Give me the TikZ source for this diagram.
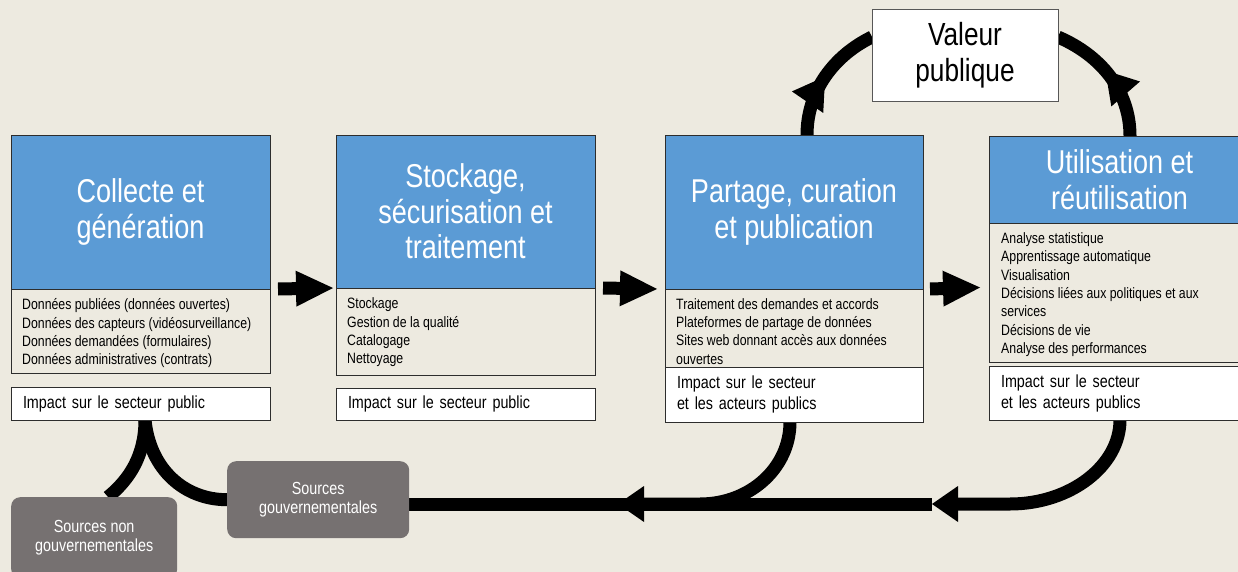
\documentclass[tikz,border=0pt]{standalone}
\usepackage{fontspec}
\setmainfont{Liberation Sans}[FakeStretch=0.82]
\usetikzlibrary{arrows.meta,decorations.markings}
\definecolor{bgc}{RGB}{237,234,224}
\definecolor{hblue}{RGB}{91,155,213}
\definecolor{sgrey}{RGB}{118,113,113}
\definecolor{edgec}{RGB}{45,45,45}
\pgfdeclarelayer{back}
\pgfdeclarelayer{lines}
\pgfsetlayers{back,lines,main}
\newcommand\impfont{\fontsize{17.5}{21}\selectfont\spaceskip=4pt plus 1pt minus 0.5pt\relax}
\tikzset{
 box/.style={draw=edgec, line width=0.9pt, anchor=north west, inner sep=0pt, outer sep=0pt},
 head/.style={box, fill=hblue, text=white, align=center, font=\fontsize{33}{35.5}\selectfont},
 body/.style={box, fill=bgc},
 impact/.style={box, fill=white, align=left, font=\impfont},
 bodytxt/.style={anchor=north west, align=left, font=\fontsize{15}{18.3}\selectfont, inner sep=0pt, execute at begin node=\strut},
 src/.style={fill=sgrey, rounded corners=9pt, anchor=north west, text=white, align=center, font=\fontsize{17.5}{19.5}\selectfont, inner sep=0pt},
 valbox/.style={box, fill=white, draw=edgec!80, align=center, font=\fontsize{32}{36}\selectfont},
 loopline/.style={line width=13pt, line cap=butt, draw=black},
 bigtip/.style={-{Triangle[length=37pt,width=36pt,line width=0pt]}},
 looptip/.style={-{Triangle[length=26pt,width=36pt,line width=0pt]}},
 midtip/.style={postaction={decorate}, decoration={markings, mark=at position #1 with {\arrow{Triangle[length=31pt,width=38pt,line width=0pt]}}}},
}
\begin{document}
\begin{tikzpicture}[x=1pt,y=-1pt]
\begin{pgfonlayer}{back}
\fill[bgc] (0,0) rectangle (1238,572);
\end{pgfonlayer}
\useasboundingbox (0,0) rectangle (1238,572);

% Box 1
\node[head, minimum width=259pt, minimum height=154pt] (b1h) at (11,135) {Collecte et\\génération};
\node[body, minimum width=259pt, minimum height=84pt] (b1b) at (11,289) {};
\node[bodytxt] (b1t) at (22,298.7) {Données publiées (données ouvertes)\\Données des capteurs (vidéosurveillance)\\Données demandées (formulaires)\\Données administratives (contrats)};
\node[impact, minimum width=259pt, minimum height=33pt, text width=235pt] (b1i) at (11,387) {Impact sur le secteur public};

% Box 2
\node[head, minimum width=259pt, minimum height=153pt] (b2h) at (336,135) {Stockage,\\sécurisation et\\traitement};
\node[body, minimum width=259pt, minimum height=87pt] (b2b) at (336,288) {};
\node[bodytxt] (b2t) at (347,297.7) {Stockage\\Gestion de la qualité\\Catalogage\\Nettoyage};
\node[impact, minimum width=259pt, minimum height=32pt, text width=235pt] (b2i) at (336,388) {Impact sur le secteur public};

% Box 3
\node[head, minimum width=258pt, minimum height=154pt] (b3h) at (665,135) {Partage, curation\\et publication};
\node[body, minimum width=258pt, minimum height=78pt] (b3b) at (665,289) {};
\node[bodytxt] (b3t) at (676,298.2) {Traitement des demandes et accords\\Plateformes de partage de données\\Sites web donnant accès aux données\\ouvertes};
\node[impact, minimum width=258pt, minimum height=55pt, text width=234pt] (b3i) at (665,367) {Impact sur le secteur\\et les acteurs publics};

% Box 4
\node[head, minimum width=261pt, minimum height=87pt] (b4h) at (989,136) {Utilisation et\\réutilisation};
\node[body, minimum width=261pt, minimum height=139pt] (b4b) at (989,223) {};
\node[bodytxt] (b4t) at (1001,232.5) {Analyse statistique\\Apprentissage automatique\\Visualisation\\Décisions liées aux politiques et aux\\services\\Décisions de vie\\Analyse des performances};
\node[impact, minimum width=261pt, minimum height=54pt, text width=237pt] (b4i) at (989,366) {Impact sur le secteur\\et les acteurs publics};

% Valeur publique
\node[valbox, minimum width=186pt, minimum height=92pt] (val) at (872,9) {Valeur\\publique};

% Sources
\node[src, minimum width=182pt, minimum height=77pt] (gov) at (227,461) {Sources\\gouvernementales};
\node[src, minimum width=166pt, minimum height=81pt] (ngov) at (11,497) {Sources non\\gouvernementales};

% Block arrows between stages
\draw[loopline, bigtip] ([xshift=8pt]b1h.south east) -- ([xshift=-3pt]b2h.south west);
\draw[loopline, bigtip] ([xshift=8pt]b2h.south east) -- ([xshift=-8pt]b3h.south west);
\draw[loopline, bigtip] ([xshift=7pt]b3h.south east) -- ([xshift=-9pt,yshift=5pt]b4b.west);

% Loops
\coordinate (c4) at (1010,504);
\coordinate (a4) at (932,504);
\coordinate (c3) at (700,504);
\coordinate (a3) at (618,504);
\begin{pgfonlayer}{lines}
\draw[loopline, looptip] ([xshift=131pt]b4i.south west) .. controls +(0,46) and +(60,0) .. (c4) -- (a4);
\draw[loopline] (a4) -- (gov.east |- a4);
\draw[loopline, looptip] ([xshift=125pt]b3i.south west) .. controls +(0,46) and +(50,0) .. (c3) -- (a3);
\draw[loopline] (gov.west) .. controls +(-42,0) and +(5,50) .. ([xshift=134pt]b1i.south west);
\draw[loopline] ([xshift=97pt]ngov.north west) .. controls +(22,-18) and +(0,35) .. ([xshift=134pt]b1i.south west);
\draw[loopline, midtip=0.5] ([xshift=142pt]b3h.north west) .. controls +(0,-45) and +(-37,18) .. ([yshift=18pt]val.west);
\draw[loopline, midtip=0.55] ([xshift=141pt]b4h.north west) .. controls +(0,-46) and +(42,18) .. ([yshift=18pt]val.east);
\end{pgfonlayer}
\end{tikzpicture}
\end{document}
